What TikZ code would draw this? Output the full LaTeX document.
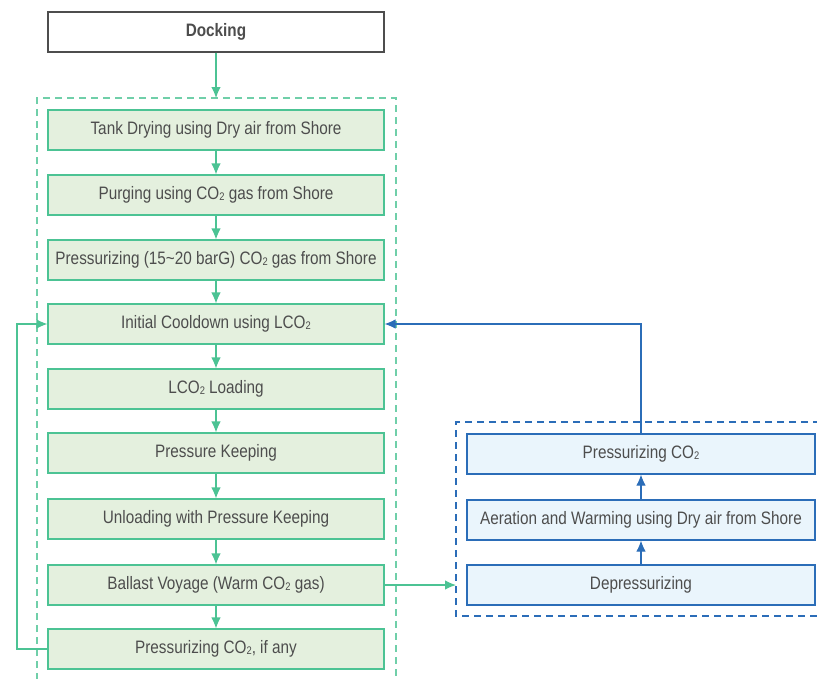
\documentclass[tikz,border=0pt]{standalone}
\usepackage{fontspec}
\setmainfont{Liberation Sans}[FakeStretch=0.85]
\usetikzlibrary{arrows.meta}

\definecolor{stepgreen}{HTML}{4CC394}
\definecolor{stepgreenfill}{HTML}{E4F0DE}
\definecolor{stepblue}{HTML}{2B6DB8}
\definecolor{stepbluefill}{HTML}{EAF5FC}
\definecolor{steptext}{HTML}{4D4D4D}
\newcommand{\cotwo}{CO{\fontsize{11}{12}\selectfont\raisebox{-1.2pt}{2}}}

\tikzset{
  stepbox/.style = {line width=1.1pt, minimum height=40pt, inner sep=0pt,
                    text=steptext, font=\fontsize{18}{20}\selectfont},
  greenbox/.style = {stepbox, draw=stepgreen, fill=stepgreenfill, minimum width=336pt},
  bluebox/.style  = {stepbox, draw=stepblue, fill=stepbluefill, minimum width=348pt},
  greenflow/.style = {draw=stepgreen, line width=1.1pt, -{Latex[length=11pt,width=9.5pt]}},
  blueflow/.style  = {draw=stepblue, line width=1.1pt, -{Latex[length=11pt,width=9.5pt]}},
  frame/.style = {line width=1.1pt, dash pattern=on 7pt off 5pt}
}

\begin{document}
\begin{tikzpicture}[x=1pt, y=-1pt]
  \useasboundingbox (0,0) rectangle (817,678);

  % Rahmen
  \draw[frame, draw=stepgreen!80] (37,680) -- (37,98) -- (396,98) -- (396,680);
  \coordinate (gtop) at (216,98);
  \draw[frame, draw=stepblue] (820,422) -- (456,422) -- (456,616) -- (820,616);
  \coordinate (bleft) at (456,585);

  % Docking
  \node[stepbox, draw=steptext, fill=white, minimum width=336pt,
        font=\fontsize{18}{20}\selectfont\bfseries] (dock) at (216,32) {Docking};

  % Ladeschritte
  \node[greenbox] (dry)   at (216,130) {Tank Drying using Dry air from Shore};
  \node[greenbox] (purge) at (216,195) {Purging using \cotwo{} gas from Shore};
  \node[greenbox] (press) at (216,260) {Pressurizing (15\textasciitilde 20 barG) \cotwo{} gas from Shore};
  \node[greenbox] (cool)  at (216,324) {Initial Cooldown using L\cotwo};
  \node[greenbox] (load)  at (216,389) {L\cotwo{} Loading};
  \node[greenbox] (keep)  at (216,453) {Pressure Keeping};
  \node[greenbox] (unload) at (216,519) {Unloading with Pressure Keeping};
  \node[greenbox] (ballast) at (216,585) {Ballast Voyage (Warm \cotwo{} gas)};
  \node[greenbox] (ifany) at (216,649) {Pressurizing \cotwo, if any};

  % Aufwaermen
  \node[bluebox] (repress) at (641,454) {Pressurizing \cotwo};
  \node[bluebox] (aerate)  at (641,520) {Aeration and Warming using Dry air from Shore};
  \node[bluebox] (depress) at (641,585) {Depressurizing};

  % Pfeile gruen
  \draw[greenflow] (dock) -- (gtop);
  \foreach \a/\b in {dry/purge, purge/press, press/cool, cool/load, load/keep,
                     keep/unload, unload/ballast, ballast/ifany}
    \draw[greenflow] (\a) -- (\b);
  \coordinate (loop) at (17,649);
  \draw[greenflow] (ifany.west) -- (loop) |- (cool.west);
  \draw[greenflow] (ballast.east) -- (bleft);

  % Pfeile blau
  \draw[blueflow] (depress) -- (aerate);
  \draw[blueflow] (aerate) -- (repress);
  \draw[blueflow] (repress.north) |- (cool.east);
\end{tikzpicture}
\end{document}
